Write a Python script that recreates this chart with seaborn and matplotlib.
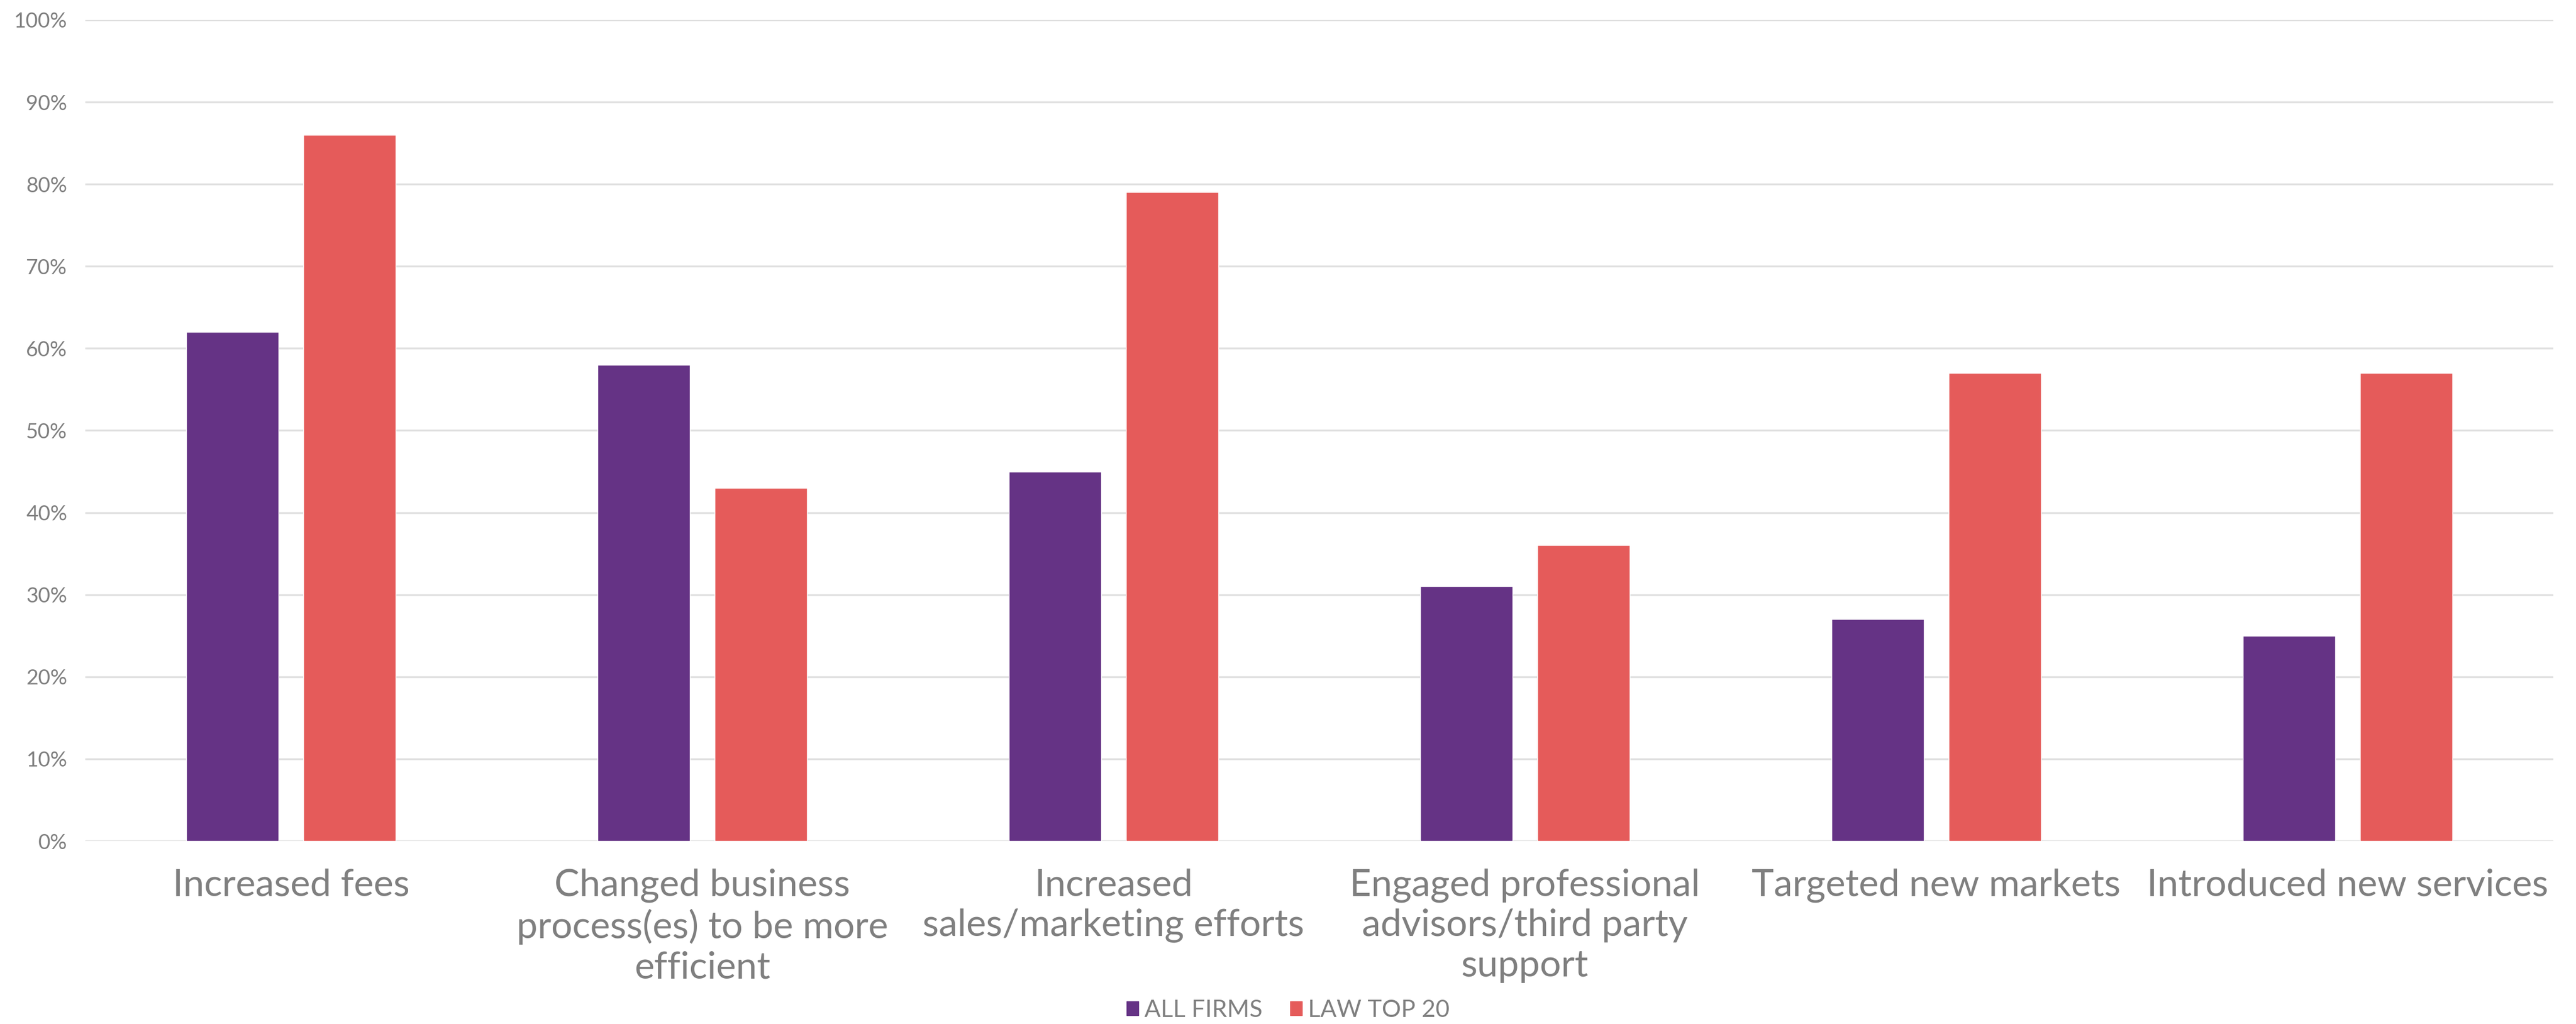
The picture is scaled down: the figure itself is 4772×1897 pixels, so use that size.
import numpy as np
import pandas as pd
import seaborn as sns
import matplotlib.pyplot as plt
from matplotlib.patches import Patch
from matplotlib.ticker import PercentFormatter

categories = ["Increased fees",
              "Changed business\nprocess(es) to be more\nefficient",
              "Increased\nsales/marketing efforts",
              "Engaged professional\nadvisors/third party\nsupport",
              "Targeted new markets",
              "Introduced new services"]
all_firms = [62, 58, 45, 31, 27, 25]
law_top20 = [86, 43, 79, 36, 57, 57]
series = ["ALL FIRMS", "LAW TOP 20"]
colors = ["#653385", "#E55B5A"]

df = pd.DataFrame({
    "category": categories * 2,
    "group": [series[0]] * len(categories) + [series[1]] * len(categories),
    "value": all_firms + law_top20,
})

sns.set_theme(style="white")
plt.rcParams['font.family'] = ['Lato', 'DejaVu Sans']
gray = "#7F7F7F"

fig = plt.figure(figsize=(47.72, 18.97), dpi=100)
ax = fig.add_axes([0.0331, 0.1787, 0.9581, 0.8018])

sns.barplot(data=df, x="category", y="value", hue="group", palette=colors,
            width=0.57, gap=0.21, saturation=1, ax=ax, legend=False, zorder=3)

ax.set_ylim(0, 100)
ax.set_xlim(-0.5, len(categories) - 0.5)
ax.set_yticks(np.arange(0, 101, 10))
ax.yaxis.set_major_formatter(PercentFormatter(decimals=0))
ax.grid(axis="y", color="#E0E0E0", linewidth=2.5, zorder=0)
for s in ax.spines.values():
    s.set_visible(False)
ax.set_xlabel("")
ax.set_ylabel("")
ax.tick_params(axis="y", length=0, pad=24, labelsize=28, labelcolor=gray)
ax.tick_params(axis="x", length=0, pad=36, labelsize=50, labelcolor=gray)
for t in ax.get_xticklabels():
    t.set_linespacing(1.23)

handles = [Patch(color=c, label=l) for c, l in zip(colors, series)]
leg = fig.legend(handles=handles, loc="center", bbox_to_anchor=(0.5, 0.0135),
                 ncol=2, frameon=False, fontsize=32, handlelength=0.5,
                 handleheight=0.5, handletextpad=0.25, columnspacing=1.15)
for t in leg.get_texts():
    t.set_color(gray)

fig.savefig("out.png", dpi=100, facecolor="white")
